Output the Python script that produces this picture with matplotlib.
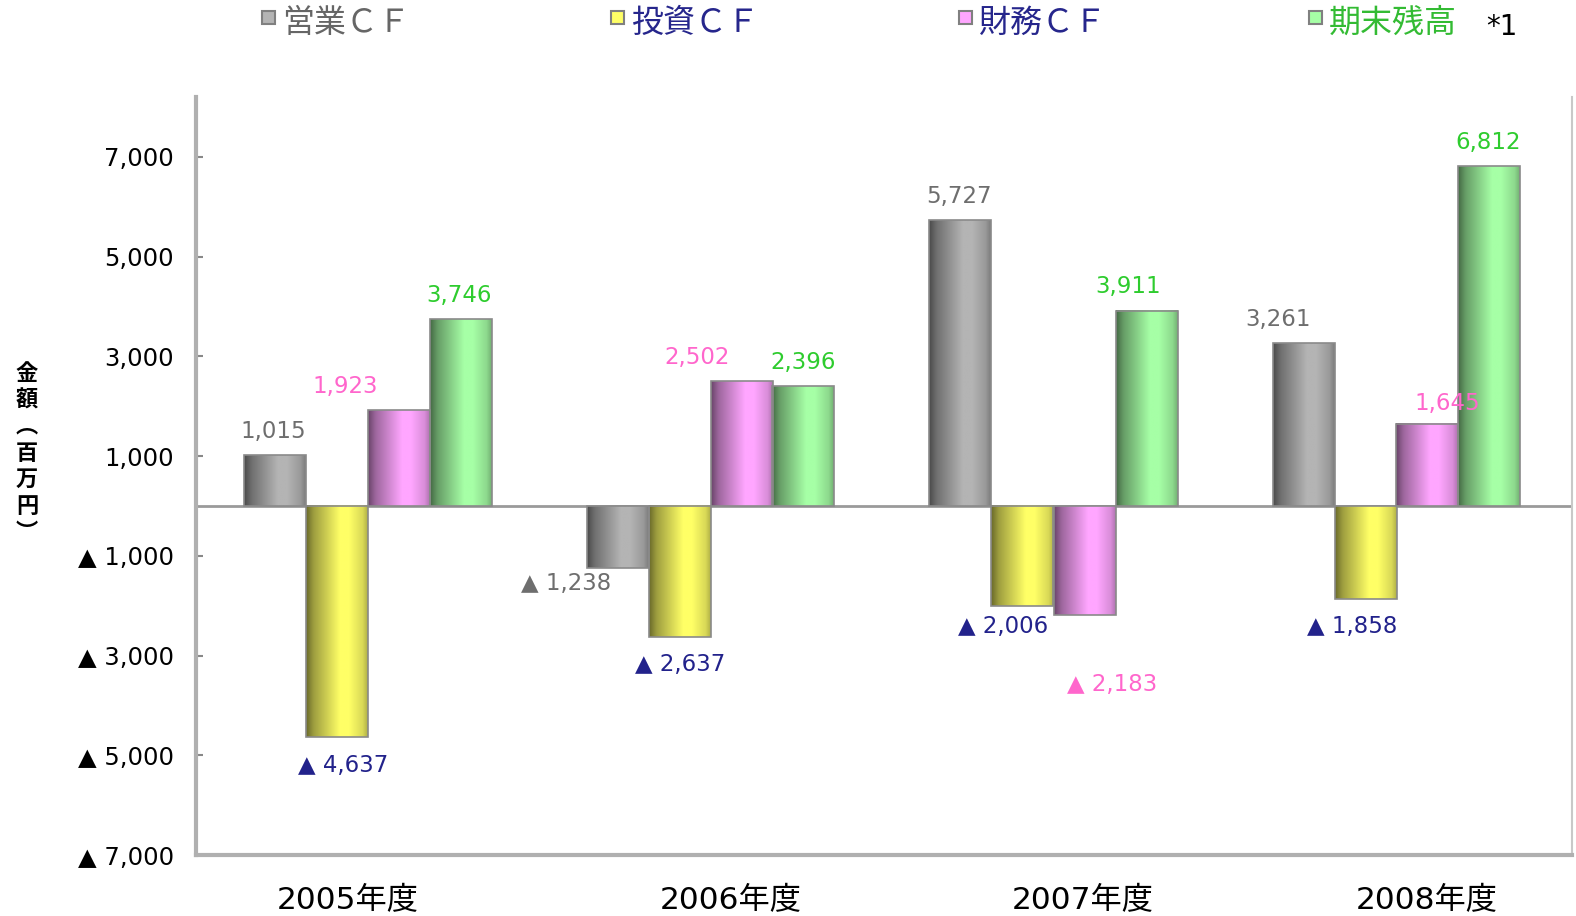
import numpy as np
import matplotlib
matplotlib.use("Agg")
import matplotlib.pyplot as plt
from matplotlib.patches import Rectangle

plt.rcParams['font.family'] = ['DejaVu Sans', 'Noto Sans CJK JP']

# ---- data ----
years = ["2005年度", "2006年度", "2007年度", "2008年度"]
series = ["営業ＣＦ", "投資ＣＦ", "財務ＣＦ", "期末残高"]
eigyo = [1015, -1238, 5727, 3261]
toshi = [-4637, -2637, -2006, -1858]
zaimu = [1923, 2502, -2183, 1645]
zandaka = [3746, 2396, 3911, 6812]
values = [eigyo, toshi, zaimu, zandaka]
yticks = [7000, 5000, 3000, 1000, -1000, -3000, -5000, -7000]

# ---- styles ----
base_cols = ["#b4b4b4", "#ffff66", "#ffa6ff", "#a6ffa6"]
legend_txt_cols = ["#666666", "#26268c", "#26268c", "#33bb33"]
pos_cols = ["#6e6e6e", "#6e6e6e", "#ff66cc", "#2ecc2e"]
neg_cols = ["#6e6e6e", "#22228b", "#ff66cc", "#2ecc2e"]
# label nudges in pixels (dx, dy) relative to the bar end
nudges = [
    [(-1, 24), (-51, -16), (-1, 24), (-25, 24)],
    [(7, -28), (1, -27), (-19, -21), (-13, -28)],
    [(-53, 24), (-44, 24), (28, -70), (20, 20)],
    [(-1, 24), (0, 24), (-18, 24), (-1, 24)],
]
year_nudge = [-0.058, 0.058, 0.085, 0.087]

W, H = 1576, 916
fig = plt.figure(figsize=(W / 100, H / 100), dpi=100)
ax = fig.add_axes([196 / W, 1 - 855 / H, (1572 - 196) / W, (855 - 97) / H])

bw = 62 / 343.0
t = np.linspace(0, 1, 64)
shade = np.interp(t, [0, 0.12, 0.55, 0.7, 0.92, 1.0], [0.42, 0.62, 1.0, 1.0, 0.85, 0.7])

for i, vals in enumerate(values):
    base = np.array(matplotlib.colors.to_rgb(base_cols[i]))
    grad = np.clip(shade[:, None] * base[None, :], 0, 1)[None, :, :]
    for g, v in enumerate(vals):
        x0 = g + (i - 2) * bw
        y0, y1 = (0, v) if v > 0 else (v, 0)
        ax.imshow(grad, extent=[x0, x0 + bw, y0, y1], aspect='auto',
                  interpolation='bilinear', zorder=3)
        ax.add_patch(Rectangle((x0, y0), bw, y1 - y0, fill=False,
                               edgecolor='#8a8a8a', lw=1.2, zorder=4))
        dx, dy = nudges[i][g]
        if v > 0:
            txt, col = f"{v:,}", pos_cols[i]
        else:
            txt, col = f"▲ {abs(v):,}", neg_cols[i]
        ax.annotate(txt, xy=(x0 + bw / 2, v), xytext=(dx, dy),
                    textcoords='offset pixels', ha='center', va='center',
                    fontsize=16.5, color=col, zorder=5)

ax.axhline(0, color='#9a9a9a', lw=2, zorder=2)
ax.set_xlim(-0.5, 3.5 + 4 / 343)
ax.set_ylim(-7000, 8200)

ax.set_yticks(yticks)
ax.set_yticklabels([f"{v:,}" if v > 0 else f"▲ {abs(v):,}" for v in yticks],
                   fontsize=17.5)
ax.tick_params(axis='y', direction='in', length=5, width=1.5, color='#888888', pad=16)
ax.set_xticks([g + year_nudge[g] for g in range(4)])
ax.set_xticklabels(years, fontsize=22.5)
ax.tick_params(axis='x', length=0, pad=22)

ax.spines['top'].set_visible(False)
ax.spines['left'].set_color('#b0b0b0')
ax.spines['left'].set_linewidth(3)
ax.spines['bottom'].set_color('#b0b0b0')
ax.spines['bottom'].set_linewidth(3)
ax.spines['right'].set_color('#c8c8c8')
ax.spines['right'].set_linewidth(1.5)

# y label, stacked vertically
fig.text(27 / W, 1 - 453 / H, "\n".join("金額︵百万円︶"), ha='center', va='center',
         fontsize=16, linespacing=1.2, weight='bold', family=['Noto Sans CJK JP'])

# legend
leg_x = [262, 611, 959, 1309]
for i, name in enumerate(series):
    fig.patches.append(Rectangle((leg_x[i] / W, 1 - 24 / H), 13 / W, 13 / H,
                                 transform=fig.transFigure, facecolor=base_cols[i],
                                 edgecolor='#808080', lw=1.5))
    fig.text((leg_x[i] + 20) / W, 1 - 23 / H, name, ha='left', va='center',
             fontsize=23, color=legend_txt_cols[i], family=['Noto Sans CJK JP'])
fig.text(1486 / W, 1 - 27 / H, "*1", ha='left', va='center', fontsize=20, color='black')

fig.savefig("out.png", dpi=100)
